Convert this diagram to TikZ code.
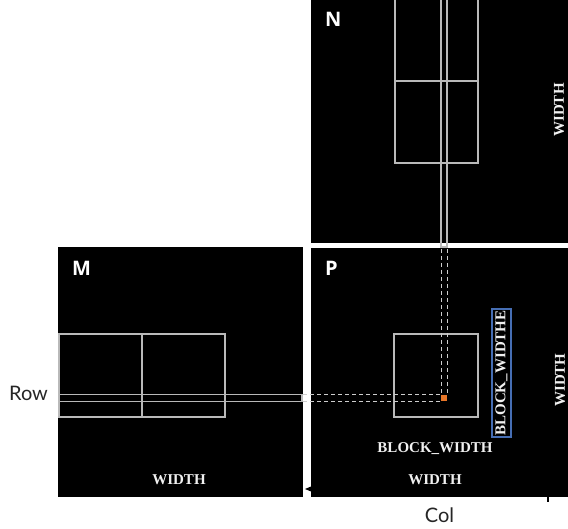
\documentclass[tikz,border=0pt]{standalone}
\usepackage{fontspec}
\setmainfont{Liberation Serif}
\newfontfamily\lato{Lato}
\newfontfamily\osans{Open Sans}
\usetikzlibrary{arrows.meta}
\definecolor{gridline}{RGB}{185,185,185}
\definecolor{dashline}{RGB}{205,205,205}
\definecolor{labelwhite}{RGB}{240,240,240}
\definecolor{dotorange}{RGB}{232,118,40}
\definecolor{boxblue}{RGB}{70,110,180}
\begin{document}
\begin{tikzpicture}[x=1pt,y=-1pt,
  mat/.style={fill=black, draw=none, inner sep=0, anchor=north west},
  blk/.style={draw=gridline, line width=1.1pt},
  dsh/.style={draw=dashline, line width=1pt, dash pattern=on 4pt off 3pt},
  dimtext/.style={text=labelwhite, font=\bfseries\fontsize{15}{15}\selectfont, inner sep=0},
  title/.style={text=white, font=\osans\bfseries\fontsize{20}{20}\selectfont, inner sep=0, anchor=base west},
  axis/.style={text=black!85, font=\lato\fontsize{20}{20}\selectfont, inner sep=0, anchor=base},
]
\useasboundingbox[fill=white] (0,0) rectangle (568,529);
% matrices
\node[mat, minimum width=257, minimum height=243] (N) at (311,0) {};
\node[mat, minimum width=257, minimum height=249] (P) at (311,248) {};
\node[mat, minimum width=245, minimum height=250] (M) at (58,247) {};
% N blocks
\draw[blk] (395,-2) rectangle (478,81);
\draw[blk] (395,81) rectangle (478,163);
\draw[blk] (441,-2) rectangle (447,247);
% M blocks
\draw[blk] (59,334) rectangle (142,417);
\draw[blk] (142,334) rectangle (225,417);
\draw[blk] (59,394.5) rectangle (302,401.5);
% P block
\draw[blk] (394,334) rectangle (478,417);
% orange element
\node[fill=dotorange, minimum size=6, inner sep=0] (dot) at (444,398) {};
\coordinate (ctop1) at (441,249);
\coordinate (ctop2) at (447,249);
\coordinate (rl1) at (303,394.5);
\coordinate (rl2) at (303,401.5);
\draw[dsh] (ctop1) -- (ctop1 |- dot.north);
\draw[dsh] (ctop2) -- (ctop2 |- dot.north);
\draw[dsh] (rl1) -- (rl1 -| dot.west);
\draw[dsh] (rl2) -- (rl2 -| dot.west);
% dimension texts
\node[dimtext, anchor=base] (wM) at (179,484) {WIDTH};
\node[dimtext, anchor=base] (wP) at (435,484) {WIDTH};
\node[dimtext, anchor=base] (bw) at (435,452) {BLOCK\_WIDTH};
\node[dimtext, rotate=90] (wN) at (559,110) {WIDTH};
\node[dimtext, rotate=90] (wP2) at (560,380) {WIDTH};
\node[dimtext, rotate=90, fill=black, draw=boxblue, line width=1.5pt, minimum width=128, minimum height=19] (bwe) at (501.5,373) {BLOCK\_WIDTHE};
% small marks
\fill[black] (311,486.5) -- (305,489) -- (311,491.5) -- cycle;
\draw[black, line width=1.5pt] (548,497) -- (548,502);
% labels
\node[title] (lM) at (72,276) {M};
\node[title] (lN) at (325,27) {N};
\node[title] (lP) at (325,276) {P};
\node[axis] (row) at (28.5,401) {Row};
\node[axis] (col) at (439.5,522) {Col};
\end{tikzpicture}
\end{document}
